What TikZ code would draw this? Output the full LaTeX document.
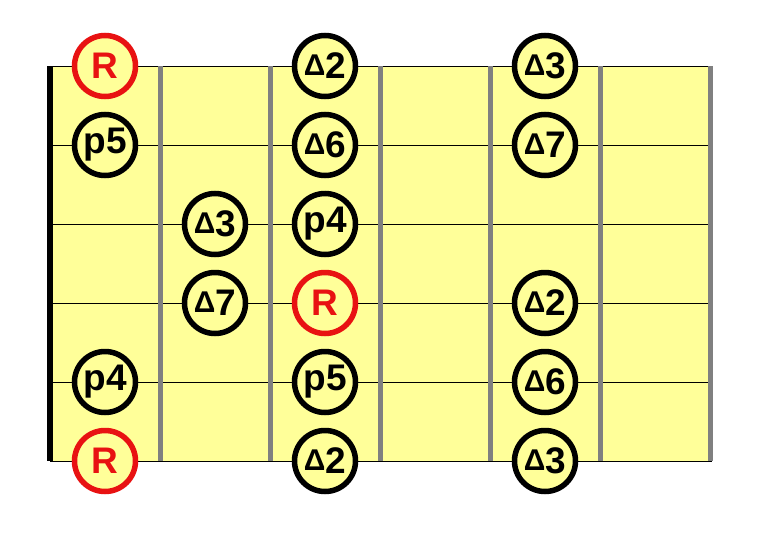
\documentclass[tikz,border=0pt]{standalone}
\usepackage{fontspec}
\setmainfont{Liberation Sans}
\definecolor{fb}{RGB}{255,255,153}
\definecolor{rred}{RGB}{232,18,18}
\definecolor{fgray}{RGB}{128,128,128}
\newcommand\tri{\raisebox{3.5pt}{\fontsize{30}{30}\selectfont Δ}\hspace{0.3pt}}
\begin{document}
\begin{tikzpicture}[x=1pt,y=-1pt,
  note/.style={circle,draw=black,line width=5.5pt,fill=fb,minimum size=61pt,inner sep=0pt,text=black,font=\fontsize{37}{37}\selectfont\bfseries},
  root/.style={note,draw=rred,text=rred},
  fretbar/.style={draw=fgray,line width=5pt},
  nutbar/.style={draw=black,line width=6pt},
  stringline/.style={draw=black,line width=1pt}]
\useasboundingbox (0,0) rectangle (763,533);
\fill[fb] (48,66) rectangle (713,461);
% string end coordinates
\foreach \i/\y in {1/66,2/145,3/224,4/303,5/382,6/461}{
  \coordinate (sL\i) at (50,\y);
  \coordinate (sR\i) at (712,\y);
}
\foreach \i in {1,...,6}{ \draw[stringline] (sL\i) -- (sR\i); }
% frets
\foreach \j/\x in {1/160,2/270,3/380,4/490,5/600,6/710}{
  \coordinate (fT\j) at (\x,66);
  \coordinate (fB\j) at (\x,461);
  \draw[fretbar] (fT\j) -- (fB\j);
}
\coordinate (nT) at (50,66);
\coordinate (nB) at (50,461);
\draw[nutbar] (nT) -- (nB);
% notes
\node[root] (n1a) at (105,66) {R};
\node[note] (n1b) at (325,66) {\tri 2};
\node[note] (n1c) at (545,66) {\tri 3};
\node[note] (n2a) at (105,145) {p5};
\node[note] (n2b) at (325,145) {\tri 6};
\node[note] (n2c) at (545,145) {\tri 7};
\node[note] (n3a) at (215,224) {\tri 3};
\node[note] (n3b) at (325,224) {p4};
\node[note] (n4a) at (215,303) {\tri 7};
\node[root] (n4b) at (325,303) {R};
\node[note] (n4c) at (545,303) {\tri 2};
\node[note] (n5a) at (105,382) {p4};
\node[note] (n5b) at (325,382) {p5};
\node[note] (n5c) at (545,382) {\tri 6};
\node[root] (n6a) at (105,461) {R};
\node[note] (n6b) at (325,461) {\tri 2};
\node[note] (n6c) at (545,461) {\tri 3};
\end{tikzpicture}
\end{document}
